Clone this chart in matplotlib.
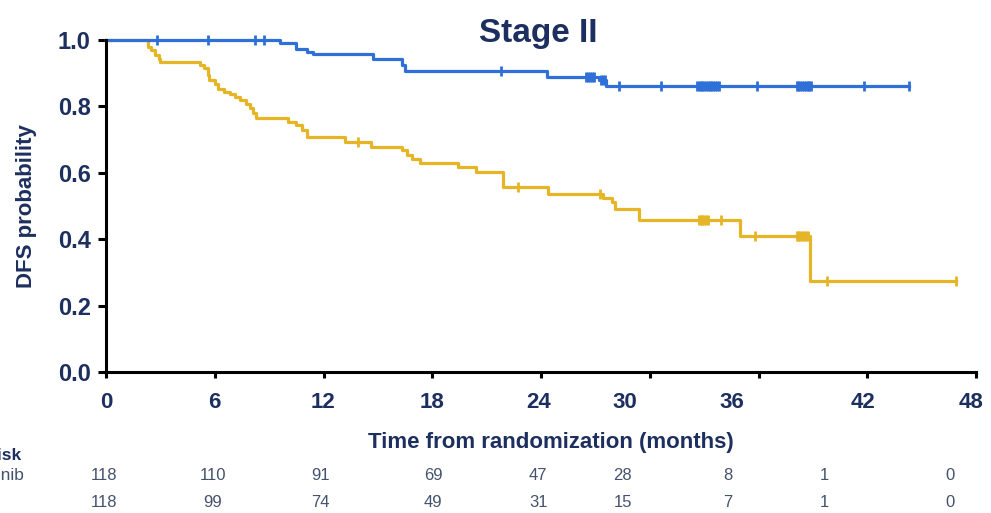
import numpy as np
import matplotlib
matplotlib.use("Agg")
import matplotlib.pyplot as plt
from matplotlib import transforms

plt.rcParams['font.family'] = ['Liberation Sans', 'DejaVu Sans']

NAVY = '#1d2f5e'
GREY = '#45526e'
BLUE = '#2e6fd8'
GOLD = '#e6b526'

# Kaplan-Meier steps: time (months) and DFS probability after each event
osi_t = [0, 9.6, 10.5, 11.1, 11.4, 14.7, 16.3, 16.5, 24.3, 27.2, 27.6]
osi_s = [1.0, 0.990, 0.974, 0.963, 0.959, 0.944, 0.924, 0.907, 0.890, 0.880, 0.861]
osi_end = 44.3
osi_cens = [2.8, 5.6, 8.2, 8.7, 21.8, 26.5, 26.6, 26.7, 26.8, 26.9, 27.3, 27.4,
            27.5, 28.3, 30.6, 32.6, 32.7, 32.8, 32.9, 33.0, 33.1, 33.2, 33.3,
            33.4, 33.5, 33.6, 33.7, 33.8, 35.9, 38.1, 38.2, 38.3, 38.4, 38.5,
            38.6, 38.7, 38.8, 38.9, 41.8, 44.3]

pla_t = [0, 2.3, 2.5, 2.7, 2.9, 3.0, 5.2, 5.4, 5.6, 5.7, 6.0, 6.2, 6.5, 6.85,
         7.1, 7.4, 7.7, 7.95, 8.1, 8.3, 10.05, 10.5, 10.8, 11.1, 13.2, 14.6,
         16.3, 16.6, 16.9, 17.3, 19.4, 20.4, 21.9, 24.4, 27.4, 27.9, 28.1,
         29.4, 35.0, 38.85]
pla_s = [1.0, 0.979, 0.969, 0.954, 0.944, 0.934, 0.924, 0.915, 0.894, 0.879,
         0.869, 0.854, 0.844, 0.839, 0.829, 0.819, 0.809, 0.794, 0.779, 0.764,
         0.754, 0.744, 0.729, 0.709, 0.694, 0.679, 0.669, 0.654, 0.641, 0.629,
         0.618, 0.603, 0.558, 0.538, 0.526, 0.513, 0.493, 0.460, 0.410, 0.275]
pla_end = 46.9
pla_cens = [13.9, 22.7, 27.25, 32.7, 32.8, 32.9, 33.0, 33.1, 33.2, 33.9, 35.8,
            38.1, 38.2, 38.3, 38.4, 38.5, 38.6, 38.7, 39.8, 46.9]

months = [0, 6, 12, 18, 24, 30, 36, 42, 48]
osi_risk = [118, 110, 91, 69, 47, 28, 8, 1, 0]
pla_risk = [118, 99, 74, 49, 31, 15, 7, 1, 0]

# small horizontal nudges (points) for the hand-placed labels under the axis
tick_nudge = [0, -0.5, -0.5, 0, -1.5, -18, -19, -3, -4]
risk_nudge = [-1.5, -1.5, -2, 0.5, -2, -19.5, -22, -31, -19]


def km(ax, t, s, t_end, cens, color):
    tt = np.append(t, t_end)
    ss = np.append(s, s[-1])
    ax.step(tt, ss, where='post', color=color, lw=2.3, clip_on=False)
    idx = np.searchsorted(t, cens, side='right') - 1
    cy = np.asarray(s)[idx]
    ax.plot(cens, cy, ls='none', marker='|', ms=6.5, mew=2, color=color,
            clip_on=False)


fig = plt.figure(figsize=(9.91, 5.13), dpi=100)
ax = fig.add_axes([0.107, 0.274, 0.878, 0.648])

km(ax, pla_t, pla_s, pla_end, pla_cens, GOLD)
km(ax, osi_t, osi_s, osi_end, osi_cens, BLUE)

ax.set_xlim(0, 48)
ax.set_ylim(0, 1.0)
for side in ('top', 'right'):
    ax.spines[side].set_visible(False)
for side in ('left', 'bottom'):
    ax.spines[side].set_linewidth(2.2)

ax.set_yticks([0, 0.2, 0.4, 0.6, 0.8, 1.0])
ax.set_yticklabels(['0.0', '0.2', '0.4', '0.6', '0.8', '1.0'])
ax.set_xticks(months)
ax.set_xticklabels([str(m) for m in months])
ax.tick_params(axis='y', length=6, width=2.2, pad=5, labelsize=17,
               labelcolor=NAVY)
ax.tick_params(axis='x', length=4, width=2.2, pad=10, labelsize=16,
               labelcolor=NAVY)
for lbl in ax.get_xticklabels() + ax.get_yticklabels():
    lbl.set_fontweight('bold')
for lbl, dx in zip(ax.get_xticklabels(), tick_nudge):
    lbl.set_transform(lbl.get_transform() +
                      transforms.ScaledTranslation(dx / 72, 0, fig.dpi_scale_trans))

ax.set_ylabel('DFS probability', fontsize=16, fontweight='bold', color=NAVY)
ax.yaxis.set_label_coords(-0.079, 0.5)
ax.set_xlabel('Time from randomization (months)', fontsize=16,
              fontweight='bold', color=NAVY)
ax.xaxis.set_label_coords(0.511, -0.18)

fig.text(0.543, 0.918, 'Stage II', ha='center', va='baseline', fontsize=24,
         fontweight='bold', color=NAVY)

# numbers at risk; the row labels run off the left edge
row_y = [0.074, 0.0195]
fig.text(-0.064, 0.113, 'No. at risk', ha='left', va='center', fontsize=12.5,
         fontweight='bold', color=NAVY)
fig.text(-0.064, row_y[0], 'Osimertinib', ha='left', va='center',
         fontsize=12.5, color=GREY)
fig.text(-0.064, row_y[1], 'Placebo', ha='left', va='center', fontsize=12.5,
         color=GREY)
blend = transforms.blended_transform_factory(ax.transData, fig.transFigure)
for y, counts in zip(row_y, [osi_risk, pla_risk]):
    for m, n, dx in zip(months, counts, risk_nudge):
        tr = blend + transforms.ScaledTranslation(dx / 72, 0, fig.dpi_scale_trans)
        fig.text(m, y, str(n), transform=tr, ha='center', va='center',
                 fontsize=12, color=GREY)

fig.savefig('out.png', dpi=100)
